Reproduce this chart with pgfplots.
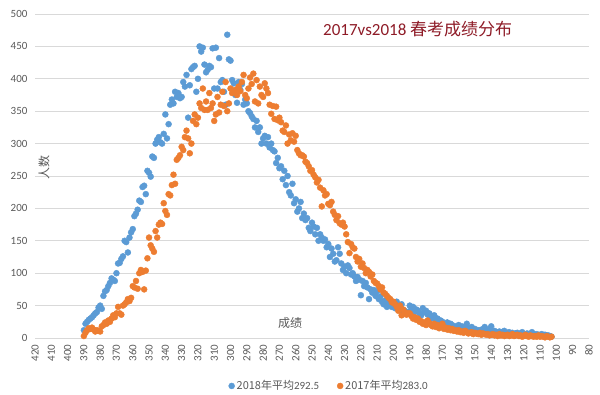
\documentclass[border=0pt]{standalone}
\usepackage{pgfplots}
\pgfplotsset{compat=1.18}
\usepackage{pgfplotstable}
\usepackage{fontspec}
\setmainfont{Carlito}
\newfontfamily\cjk{Noto Sans CJK SC}
\definecolor{c18}{HTML}{5B9BD5}
\definecolor{c17}{HTML}{ED7D31}
\definecolor{gridc}{HTML}{D9D9D9}
\definecolor{txt}{HTML}{595959}
\definecolor{ttl}{HTML}{8E1B27}
\pgfplotstableread{
s a b
390 12 3
389 22 8
388 25 12
387 28 15
386 30 14
385 32 16
384 35 13
383 38 10
382 40 12
381 47 11
380 50 10
379 45 18
378 65 20
377 72 24
376 74 22
375 80 27
374 85 25
373 92 30
372 90 35
371 88 32
370 100 38
369 115 48
368 116 38
367 122 36
366 126 50
365 150 52
364 148 55
363 132 60
362 155 57
361 163 62
360 168 80
359 188 78
358 192 88
357 198 76
356 212 100
355 210 105
354 233 102
353 235 75
352 222 104
351 258 123
350 255 155
349 249 143
348 280 138
347 278 133
346 300 165
345 306 155
344 310 175
343 302 178
342 300 176
341 315 208
340 345 196
339 308 190
338 330 222
337 360 220
336 368 236
335 362 252
334 380 238
333 372 275
332 378 278
331 370 282
330 372 295
329 395 290
328 388 310
327 406 320
326 340 308
325 390 285
324 415 300
323 418 335
322 420 345
321 380 330
320 400 340
319 450 362
318 442 355
317 448 385
316 422 352
315 410 365
314 414 352
313 420 378
312 418 355
311 447 362
310 385 335
309 448 345
308 385 372
307 432 348
306 395 360
305 398 380
304 380 358
303 360 395
302 468 350
301 430 362
300 428 385
299 398 378
298 393 380
297 375 383
296 363 375
295 395 388
294 383 381
293 392 395
292 360 406
291 368 375
290 362 370
289 350 385
288 347 402
287 342 392
286 338 408
285 325 365
284 335 398
283 318 362
282 325 388
281 300 375
280 308 372
279 312 393
278 300 385
277 310 378
276 294 360
275 300 346
274 290 358
273 288 338
272 270 357
271 278 336
270 262 340
269 265 333
268 245 320
267 258 318
266 236 328
265 250 300
264 225 314
263 220 305
262 238 316
261 208 303
260 214 312
259 195 290
258 200 285
257 210 282
256 185 282
255 192 280
254 182 272
253 185 270
252 170 265
251 165 258
250 178 259
249 172 252
248 160 248
247 170 240
246 150 244
245 160 232
244 155 203
243 150 228
242 152 220
241 140 222
240 145 207
239 125 205
238 138 210
237 130 195
236 118 190
235 120 182
234 140 188
233 130 177
232 115 175
231 105 178
230 110 172
229 100 160
228 112 148
227 108 131
226 98 145
225 100 140
224 95 138
223 88 125
222 94 118
221 90 122
220 66 110
219 88 115
218 80 108
217 85 100
216 78 105
215 60 102
214 75 95
213 70 98
212 74 88
211 65 85
210 72 84
209 60 80
208 64 75
207 56 78
206 52 70
205 58 68
204 48 65
203 52 62
202 55 60
201 48 55
200 50 56
199 46 52
198 56 48
197 44 42
196 50 50
195 52 35
194 40 44
193 42 40
192 38 36
191 40 38
190 50 38
189 45 34
188 48 30
187 40 32
186 44 28
185 42 30
184 38 25
183 35 26
182 46 22
181 40 24
180 42 20
179 36 27
178 38 23
177 30 20
176 33 18
175 35 22
174 28 17
173 30 20
172 26 15
171 27 18
170 25 22
169 22 14
168 20 16
167 24 13
166 18 15
165 22 12
164 20 14
163 16 11
162 18 12
161 15 10
160 20 12
159 16 9
158 18 10
157 14 8
156 17 11
155 22 9
154 14 7
153 15 8
152 17 9
151 12 6
150 14 8
149 11 7
148 12 6
147 10 8
146 13 5
145 11 7
144 17 6
143 12 5
142 9 6
141 14 4
140 18 5
139 10 6
138 11 4
137 9 5
136 8 3
135 10 6
134 9 4
133 8 5
132 11 3
131 7 4
130 8 5
129 9 3
128 7 4
127 8 6
126 6 3
125 7 4
124 8 5
123 6 3
122 7 4
121 9 2
120 6 3
119 5 5
118 7 3
117 6 2
116 5 4
115 9 3
114 6 2
113 5 3
112 6 2
111 4 4
110 5 2
109 6 3
108 4 2
107 5 1
106 4 3
105 4 2
104 3 1
103 2 2
}\data
\begin{document}
\begin{tikzpicture}
\path[use as bounding box] (0,0) rectangle (600pt,395pt);
\begin{axis}[
  at={(35pt,57pt)}, anchor=south west,
  scale only axis, width=554pt, height=324pt,
  x dir=reverse, xmin=80, xmax=420, ymin=0, ymax=500,
  xtick={80,90,...,420}, ytick={0,50,...,500},
  ymajorgrids, grid style={draw=gridc, line width=0.8pt},
  axis line style={draw=none},
  major tick length=0pt,
  yticklabel pos=left,
  tick label style={font=\fontsize{11}{13}\selectfont, text=txt},
  /pgf/number format/assume math mode=true,
  x tick label style={rotate=90, anchor=east},
  y tick label style={anchor=east},
  xticklabel shift=3pt,
  yticklabel shift=4pt,
  clip=false,
  legend style={at={(0.531,-0.148)}, anchor=center, draw=none, fill=none,
    font=\fontsize{11}{13}\selectfont, text=txt, legend columns=2,
    /tikz/every even column/.append style={column sep=16pt}},
]
\addplot[only marks, mark=*, mark size=3pt, color=c18, mark options={draw=c18, fill=c18}] table[x=s, y=a] {\data};
\addlegendentry{{\cjk 2018年平均}292.5}
\addplot[only marks, mark=*, mark size=3pt, color=c17, mark options={draw=c17, fill=c17}] table[x=s, y=b] {\data};
\addlegendentry{{\cjk 2017年平均}283.0}
\end{axis}
\node[anchor=west, text=ttl, font=\fontsize{17}{20}\selectfont, inner sep=0pt] at (323pt,366pt) {2017vs2018 {\cjk 春考成绩分布}};
\node[rotate=90, text=txt, font=\cjk\fontsize{12}{14}\selectfont] at (44pt,227pt) {人数};
\node[text=txt, font=\cjk\fontsize{12}{14}\selectfont] at (290pt,72pt) {成绩};
\end{tikzpicture}
\end{document}
